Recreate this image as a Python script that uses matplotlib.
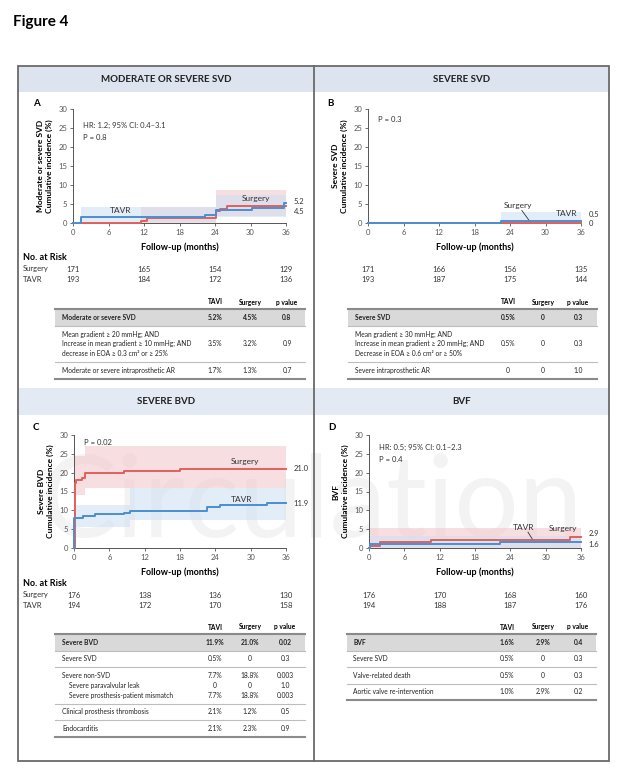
import matplotlib
matplotlib.use('Agg')
import matplotlib.pyplot as plt
from matplotlib.patches import Rectangle
from matplotlib.transforms import blended_transform_factory

plt.rcParams['font.family'] = ['Lato', 'DejaVu Sans']

W, H = 621, 769
RED = '#e2605c'
BLUE = '#4a8fd2'
RED_CI = '#f3c9cd'
BLUE_CI = '#cfe1f3'
GRID = '#555555'

# ---- data (months, cumulative incidence %) ----
# A: moderate or severe SVD
a_tavr_t = [0, 1.3, 22.3, 24.2, 30.2, 35.7, 36]
a_tavr_y = [0, 1.5, 2.2, 3.3, 3.9, 5.2, 5.2]
a_surg_t = [0, 11.5, 12.5, 24.1, 24.8, 26.0, 36]
a_surg_y = [0, 0.5, 1.2, 3.2, 3.7, 4.5, 4.5]
a_tavr_ci_t = [1.3, 24.2, 36]
a_tavr_ci_lo = [0.2, 1.5, 1.5]
a_tavr_ci_hi = [4.3, 7.5, 7.5]
a_surg_ci_t = [11.5, 24.1, 36]
a_surg_ci_lo = [0, 1.8, 1.8]
a_surg_ci_hi = [4.3, 8.8, 8.8]

# B: severe SVD
b_tavr_t = [0, 22.5, 36]
b_tavr_y = [0, 0.5, 0.5]
b_surg_t = [0, 36]
b_surg_y = [0, 0]
b_tavr_ci_t = [22.5, 36]
b_tavr_ci_lo = [0, 0]
b_tavr_ci_hi = [3.0, 3.0]

# C: severe BVD
c_surg_t = [0, 0.1, 0.3, 1.3, 1.8, 8.5, 18.0, 36]
c_surg_y = [0, 17.3, 18.1, 18.6, 19.9, 20.5, 21.0, 21.0]
c_tavr_t = [0, 0.05, 1.5, 3.5, 8.5, 9.5, 22.5, 24.8, 32.8, 36]
c_tavr_y = [0, 8.0, 8.4, 8.9, 9.4, 9.9, 10.8, 11.4, 11.9, 11.9]
c_surg_ci_t = [0.1, 1.8, 36]
c_surg_ci_lo = [14.0, 15.8, 15.8]
c_surg_ci_hi = [24.5, 27.0, 27.0]
c_tavr_ci_t = [0.05, 9.5, 36]
c_tavr_ci_lo = [5.5, 7.5, 7.5]
c_tavr_ci_hi = [11.5, 16.0, 16.0]

# D: BVF
d_surg_t = [0, 0.1, 1.8, 10.6, 34.2, 36]
d_surg_y = [0, 0.6, 1.7, 2.2, 2.9, 2.9]
d_tavr_t = [0, 0.1, 22.3, 36]
d_tavr_y = [0, 1.0, 1.6, 1.6]
d_surg_ci_t = [0.1, 36]
d_surg_ci_lo = [0, 0]
d_surg_ci_hi = [5.3, 5.3]
d_tavr_ci_t = [0.1, 36]
d_tavr_ci_lo = [0, 0]
d_tavr_ci_hi = [3.2, 3.2]

# numbers at risk
risk_months = [0, 12, 24, 36]
a_risk_surg = [171, 165, 154, 129]
a_risk_tavr = [193, 184, 172, 136]
b_risk_surg = [171, 166, 156, 135]
b_risk_tavr = [193, 187, 175, 144]
c_risk_surg = [176, 138, 136, 130]
c_risk_tavr = [194, 172, 170, 158]
d_risk_surg = [176, 170, 168, 160]
d_risk_tavr = [194, 188, 187, 176]

# tables
tab_a_labels = ['Moderate or severe SVD',
                'Mean gradient \u2265 20 mmHg; AND\nIncrease in mean gradient \u2265 10 mmHg; AND\n'
                'decrease in EOA \u2265 0.3 cm\u00b2 or \u2265 25%',
                'Moderate or severe intraprosthetic AR']
tab_a_tavi = ['5.2%', '3.5%', '1.7%']
tab_a_surg = ['4.5%', '3.2%', '1.3%']
tab_a_p = ['0.8', '0.9', '0.7']
tab_a_block = [0, 1, 2]

tab_b_labels = ['Severe SVD',
                'Mean gradient \u2265 30 mmHg; AND\nIncrease in mean gradient \u2265 20 mmHg; AND\n'
                'Decrease in EOA \u2265 0.6 cm\u00b2 or \u2265 50%',
                'Severe intraprosthetic AR']
tab_b_tavi = ['0.5%', '0.5%', '0']
tab_b_surg = ['0', '0', '0']
tab_b_p = ['0.3', '0.3', '1.0']
tab_b_block = [0, 1, 2]

tab_c_labels = ['Severe BVD', 'Severe SVD', 'Severe non-SVD', 'Severe paravalvular leak',
                'Severe prosthesis-patient mismatch', 'Clinical prosthesis thrombosis', 'Endocarditis']
tab_c_tavi = ['11.9%', '0.5%', '7.7%', '0', '7.7%', '2.1%', '2.1%']
tab_c_surg = ['21.0%', '0', '18.8%', '0', '18.8%', '1.2%', '2.3%']
tab_c_p = ['0.02', '0.3', '0.003', '1.0', '0.003', '0.5', '0.9']
tab_c_block = [0, 1, 2, 2, 2, 3, 4]
tab_c_indent = [0, 0, 0, 1, 1, 0, 0]

tab_d_labels = ['BVF', 'Severe SVD', 'Valve-related death', 'Aortic valve re-intervention']
tab_d_tavi = ['1.6%', '0.5%', '0.5%', '1.0%']
tab_d_surg = ['2.9%', '0', '0', '2.9%']
tab_d_p = ['0.4', '0.3', '0.3', '0.2']
tab_d_block = [0, 1, 2, 3]

fig = plt.figure(figsize=(W / 100, H / 100), dpi=100)

# background canvas in pixel coordinates
bg = fig.add_axes([0, 0, 1, 1])
bg.set_xlim(0, W)
bg.set_ylim(H, 0)
bg.axis('off')


def px_axes(x0, y0, x1, y1):
    ax = fig.add_axes([x0 / W, 1 - y1 / H, (x1 - x0) / W, (y1 - y0) / H])
    ax.set_facecolor('none')
    return ax


bg.text(13, 22, 'Figure 4', fontsize=11, fontweight='bold', va='center')

# header bands and frame
bg.add_patch(Rectangle((18, 66), 591, 26, color='#dde4ef', lw=0))
bg.add_patch(Rectangle((18, 388), 591, 27, color='#e4eaf4', lw=0))
bg.add_patch(Rectangle((18, 66), 591, 695, fill=False, ec='#6a6a6a', lw=1.3))
bg.plot([314, 314], [66, 761], color='#6a6a6a', lw=1.3)
for xc, yc, title in [(166, 79, 'MODERATE OR SEVERE SVD'), (462, 79, 'SEVERE SVD'),
                      (166, 402, 'SEVERE BVD'), (462, 402, 'BVF')]:
    bg.text(xc, yc, title, fontsize=7, fontweight='bold', ha='center', va='center', color='#222')

# faint journal watermark
bg.text(312, 505, 'Circulation', fontsize=82, ha='center', va='center',
        color='#d0d0d0', alpha=0.25, zorder=0)


def km_panel(ax, ylabel, tavr, surg, cis):
    for (t, lo, hi, col) in cis:
        ax.fill_between(t, lo, hi, step='post', color=col, alpha=0.6, lw=0)
    ax.step(surg[0], surg[1], where='post', color=RED, lw=1.4, clip_on=False, zorder=3)
    ax.step(tavr[0], tavr[1], where='post', color=BLUE, lw=1.4, clip_on=False, zorder=4)
    ax.set_xlim(0, 36)
    ax.set_ylim(0, 30)
    ax.set_xticks(range(0, 37, 6))
    ax.set_yticks(range(0, 31, 5))
    for s in ['top', 'right']:
        ax.spines[s].set_visible(False)
    for s in ['left', 'bottom']:
        ax.spines[s].set_color(GRID)
        ax.spines[s].set_linewidth(0.7)
    ax.tick_params(labelsize=5.5, length=2.5, width=0.6, colors=GRID, pad=1.5)
    ax.set_ylabel(ylabel, fontsize=6, fontweight='bold', labelpad=4, linespacing=1.3)
    ax.set_xlabel('Follow-up (months)', fontsize=6.5, fontweight='bold', labelpad=5)


def risk_rows(ax, y_surg, y_tavr, surg, tavr, names):
    tr = blended_transform_factory(ax.transData, bg.transData)
    for m, s, t in zip(risk_months, surg, tavr):
        bg.text(m, y_surg, str(s), transform=tr, fontsize=5.5, ha='center', va='center', color='#333')
        bg.text(m, y_tavr, str(t), transform=tr, fontsize=5.5, ha='center', va='center', color='#333')
    if names:
        bg.text(23, y_surg - 12, 'No. at Risk', fontsize=6.5, fontweight='bold', va='center')
        bg.text(23, y_surg, 'Surgery', fontsize=5.5, va='center', color='#333')
        bg.text(23, y_tavr, 'TAVR', fontsize=5.5, va='center', color='#333')


def draw_table(x0, x1, lab_x, cols, top, labels, tavi, surg, pv, block, indent=None):
    if indent is None:
        indent = [0] * len(labels)
    fs = 4.8
    line_h = 10.0
    pad = 6.5
    for cx, h in zip(cols, ['TAVI', 'Surgery', 'p value']):
        bg.text(cx, top - 7, h, fontsize=fs, fontweight='bold', ha='center', va='center')
    y = top
    nblocks = max(block) + 1
    for b in range(nblocks):
        rows = [i for i in range(len(labels)) if block[i] == b]
        nlines = sum(labels[i].count('\n') + 1 for i in rows)
        bh = pad + nlines * line_h
        if b == 0:
            bg.add_patch(Rectangle((x0, y), x1 - x0, bh, color='#d9d9d9', lw=0))
        yy = y + pad / 2
        for i in rows:
            n = labels[i].count('\n') + 1
            yc = yy + n * line_h / 2
            wt = 'bold' if b == 0 else 'normal'
            bg.text(lab_x + 7 * indent[i], yc, labels[i], fontsize=fs, va='center', fontweight=wt,
                    linespacing=1.45, color='#222')
            for cx, v in zip(cols, [tavi[i], surg[i], pv[i]]):
                bg.text(cx, yc, v, fontsize=fs, ha='center', va='center', fontweight=wt, color='#222')
            yy += n * line_h
        y += bh
        if b < nblocks - 1:
            bg.plot([x0, x1], [y, y], color='#bdbdbd', lw=0.8)
    bg.plot([x0, x1], [top, top], color='#8a8a8a', lw=1.5)
    bg.plot([x0, x1], [y, y], color='#8a8a8a', lw=1.5)


# ---- Panel A ----
axA = px_axes(73, 109, 286, 223)
km_panel(axA, 'Moderate or severe SVD\nCumulative incidence (%)', (a_tavr_t, a_tavr_y), (a_surg_t, a_surg_y),
         [(a_surg_ci_t, a_surg_ci_lo, a_surg_ci_hi, RED_CI), (a_tavr_ci_t, a_tavr_ci_lo, a_tavr_ci_hi, BLUE_CI)])
axA.text(1.7, 25.7, 'HR: 1.2; 95% CI: 0.4\u20133.1', fontsize=5.5, va='center', color='#333')
axA.text(1.7, 22.6, 'P = 0.8', fontsize=5.5, va='center', color='#333')
axA.text(8.0, 3.3, 'TAVR', fontsize=6, ha='center', va='center', color='#333')
axA.text(31.0, 6.5, 'Surgery', fontsize=6, ha='center', va='center', color='#333')
axA.text(37.3, 5.6, '5.2', fontsize=5.5, va='center', color='#333', clip_on=False)
axA.text(37.3, 3.0, '4.5', fontsize=5.5, va='center', color='#333', clip_on=False)
bg.text(33, 103, 'A', fontsize=7, fontweight='bold', va='center')
risk_rows(axA, 269, 279, a_risk_surg, a_risk_tavr, True)
draw_table(55, 305, 62, [215, 250, 287], 309, tab_a_labels, tab_a_tavi, tab_a_surg, tab_a_p, tab_a_block)

# ---- Panel B ----
axB = px_axes(368, 109, 581, 223)
km_panel(axB, 'Severe SVD\nCumulative incidence (%)', (b_tavr_t, b_tavr_y), (b_surg_t, b_surg_y),
         [(b_tavr_ci_t, b_tavr_ci_lo, b_tavr_ci_hi, BLUE_CI)])
axB.text(1.7, 27.2, 'P = 0.3', fontsize=5.5, va='center', color='#333')
axB.text(25.3, 4.6, 'Surgery', fontsize=6, ha='center', va='center', color='#333')
axB.plot([26.0, 27.5], [3.3, 0.1], color='#333', lw=0.6)
axB.text(33.6, 2.4, 'TAVR', fontsize=6, ha='center', va='center', color='#333')
axB.text(37.3, 2.2, '0.5', fontsize=5.5, va='center', color='#333', clip_on=False)
axB.text(37.3, -0.2, '0', fontsize=5.5, va='center', color='#333', clip_on=False)
bg.text(327, 103, 'B', fontsize=7, fontweight='bold', va='center')
risk_rows(axB, 269, 279, b_risk_surg, b_risk_tavr, False)
draw_table(348, 597, 355, [508, 543, 578], 309, tab_b_labels, tab_b_tavi, tab_b_surg, tab_b_p, tab_b_block)

# ---- Panel C ----
axC = px_axes(74, 435, 286, 548)
km_panel(axC, 'Severe BVD\nCumulative incidence (%)', (c_tavr_t, c_tavr_y), (c_surg_t, c_surg_y),
         [(c_surg_ci_t, c_surg_ci_lo, c_surg_ci_hi, RED_CI), (c_tavr_ci_t, c_tavr_ci_lo, c_tavr_ci_hi, BLUE_CI)])
axC.text(1.7, 27.9, 'P = 0.02', fontsize=5.5, va='center', color='#333')
axC.text(29.0, 22.9, 'Surgery', fontsize=6, ha='center', va='center', color='#333')
axC.text(28.5, 12.9, 'TAVR', fontsize=6, ha='center', va='center', color='#333')
axC.text(37.3, 21.0, '21.0', fontsize=5.5, va='center', color='#333', clip_on=False)
axC.text(37.3, 11.9, '11.9', fontsize=5.5, va='center', color='#333', clip_on=False)
bg.text(33, 428, 'C', fontsize=7, fontweight='bold', va='center')
risk_rows(axC, 595, 605, c_risk_surg, c_risk_tavr, True)
draw_table(55, 305, 62, [215, 250, 285], 634, tab_c_labels, tab_c_tavi, tab_c_surg, tab_c_p, tab_c_block,
           tab_c_indent)

# ---- Panel D ----
axD = px_axes(369, 435, 581, 548)
km_panel(axD, 'BVF\nCumulative incidence (%)', (d_tavr_t, d_tavr_y), (d_surg_t, d_surg_y),
         [(d_surg_ci_t, d_surg_ci_lo, d_surg_ci_hi, RED_CI), (d_tavr_ci_t, d_tavr_ci_lo, d_tavr_ci_hi, BLUE_CI)])
axD.text(1.7, 26.8, 'HR: 0.5; 95% CI: 0.1\u20132.3', fontsize=5.5, va='center', color='#333')
axD.text(1.7, 23.4, 'P = 0.4', fontsize=5.5, va='center', color='#333')
axD.text(26.2, 5.5, 'TAVR', fontsize=6, ha='center', va='center', color='#333')
axD.plot([27.0, 28.0], [4.2, 1.7], color='#333', lw=0.6)
axD.text(33.0, 5.2, 'Surgery', fontsize=6, ha='center', va='center', color='#333')
axD.text(37.3, 3.8, '2.9', fontsize=5.5, va='center', color='#333', clip_on=False)
axD.text(37.3, 0.9, '1.6', fontsize=5.5, va='center', color='#333', clip_on=False)
bg.text(328, 428, 'D', fontsize=7, fontweight='bold', va='center')
risk_rows(axD, 596, 606, d_risk_surg, d_risk_tavr, False)
draw_table(347, 596, 353, [507, 543, 578], 634, tab_d_labels, tab_d_tavi, tab_d_surg, tab_d_p, tab_d_block)

fig.savefig('out.png', dpi=100)
